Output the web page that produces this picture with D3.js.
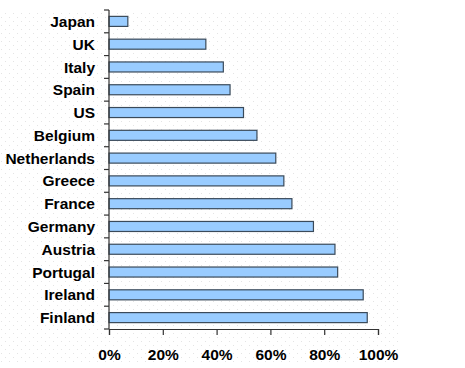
<!DOCTYPE html>
<html><head><meta charset="utf-8">
<script src="https://cdn.jsdelivr.net/npm/d3@7"></script>
<style>body{margin:0;background:#fff}svg{display:block}</style>
</head><body>
<svg id="c" width="465" height="368"></svg>
<script>
const countries = ["Japan","UK","Italy","Spain","US","Belgium","Netherlands","Greece","France","Germany","Austria","Portugal","Ireland","Finland"];
const values = [7,36,42.5,45,50,55,62,65,68,76,84,85,94.5,96];
const tickValues = [0,20,40,60,80,100];

const svg = d3.select("#c");
const font = "Arial, 'Liberation Sans', sans-serif";

// dotted background
const defs = svg.append("defs");
const pat = defs.append("pattern").attr("id","dots").attr("patternUnits","userSpaceOnUse")
  .attr("width",8).attr("height",8);
pat.append("rect").attr("x",1).attr("y",1).attr("width",1).attr("height",1).attr("fill","#e4e4e4");
pat.append("rect").attr("x",5).attr("y",5).attr("width",1).attr("height",1).attr("fill","#e4e4e4");
svg.append("rect").attr("x",0).attr("y",13).attr("width",400).attr("height",351).attr("fill","url(#dots)");

const x = d3.scaleLinear().domain([0,100]).range([109,378]);
const y = d3.scaleBand().domain(countries).range([10,329]).paddingInner(0.56).paddingOuter(0.28);

svg.append("g").selectAll("rect").data(countries).join("rect")
  .attr("x", x(0))
  .attr("y", d => y(d))
  .attr("width", (d,i) => x(values[i]) - x(0))
  .attr("height", y.bandwidth())
  .attr("fill", "#99ccff")
  .attr("stroke", "#3a4a5a")
  .attr("stroke-width", 1.2);

// y axis
const yg = svg.append("g");
yg.append("line").attr("x1",109).attr("x2",109).attr("y1",10).attr("y2",329).attr("stroke","#333").attr("stroke-width",1.2);
const bounds = d3.range(countries.length+1).map(i => 10 + i*(319/countries.length));
yg.selectAll("line.t").data(bounds).join("line").attr("class","t")
  .attr("x1",104).attr("x2",109).attr("y1",d=>d).attr("y2",d=>d).attr("stroke","#333").attr("stroke-width",1.2);
yg.selectAll("text").data(countries).join("text")
  .attr("x",95).attr("y",d=>y(d)+y.bandwidth()/2).attr("dy","0.36em")
  .attr("text-anchor","end").attr("font-family",font).attr("font-weight","bold")
  .attr("font-size","15.5px").attr("fill","#000").text(d=>d);

// x axis
const xAxis = d3.axisBottom(x).tickValues(tickValues).tickFormat(d=>d+"%").tickSize(6).tickPadding(14);
const xg = svg.append("g").attr("transform","translate(0,329)").call(xAxis);
xg.select(".domain").attr("stroke","#333").attr("stroke-width",1.2);
xg.selectAll(".tick line").attr("stroke","#333").attr("stroke-width",1.2);
xg.selectAll("text").attr("font-family",font).attr("font-weight","bold").attr("font-size","15.5px").attr("fill","#000");
</script>
</body></html>
